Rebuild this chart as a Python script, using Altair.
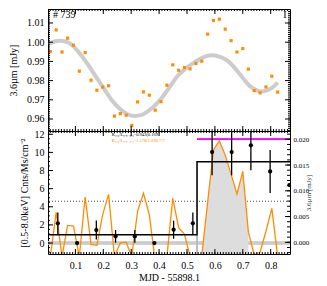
import altair as alt
import pandas as pd
import numpy as np

# ---------------- data ----------------
# common time grid (MJD - 55898.1)
t_grid = [0.010, 0.031, 0.052, 0.072, 0.093, 0.114, 0.135, 0.156, 0.177, 0.198,
          0.219, 0.240, 0.261, 0.282, 0.302, 0.323, 0.344, 0.365, 0.386, 0.407,
          0.428, 0.449, 0.470, 0.491, 0.511, 0.532, 0.553, 0.574, 0.595, 0.616,
          0.637, 0.658, 0.679, 0.700, 0.720, 0.741, 0.762, 0.783, 0.804, 0.825]

# IRAC 3.6um flux (mJy)
ir_flux = [0.9951, 1.0064, 0.9949, 1.0021, 0.9984, 0.9849, 0.9946, 0.9802, 0.9750, 0.9766,
           0.9773, 0.9615, 0.9628, 0.9620, 0.9566, 0.9689, 0.9741, 0.9724, 0.9646, 0.9690,
           0.9776, 0.9882, 0.9854, 0.9868, 0.9861, 0.9889, 0.9901, 1.0042, 1.0113, 1.0120,
           1.0068, 1.0008, 0.9949, 0.9967, 0.9860, 0.9748, 0.9736, 0.9767, 0.9823, 0.9740]

# smooth model curve (gray)
fit_t = [0.005, 0.025, 0.048, 0.075, 0.108, 0.138, 0.168, 0.198, 0.228, 0.258, 0.287,
         0.311, 0.335, 0.359, 0.383, 0.407, 0.437, 0.467, 0.497, 0.526, 0.556, 0.586,
         0.616, 0.646, 0.670, 0.694, 0.712, 0.729, 0.747, 0.765, 0.789, 0.810, 0.825]
fit_y = [0.9990, 1.0004, 1.0008, 0.9998, 0.9955, 0.9898, 0.9833, 0.9768, 0.9703, 0.9655, 0.9625,
         0.9616, 0.9620, 0.9640, 0.9668, 0.9705, 0.9765, 0.9825, 0.9865, 0.9894, 0.9920, 0.9932,
         0.9925, 0.9903, 0.9868, 0.9825, 0.9792, 0.9767, 0.9752, 0.9743, 0.9750, 0.9768, 0.9790]

# scaled IR light curve in the X-ray panel (orange)
ir_scaled = [-1.6, 3.4, -1.5, 1.95, 1.88, -1.5, 5.08, -0.15, -0.25, 3.17,
             5.37, -1.5, 0.03, 0.10, -1.5, 3.53, 5.49, 3.1, -2.0, -1.5,
             -1.5, 4.93, 1.69, 0.96, -1.5, -1.5, -1.4, 4.5, 10.3, 11.26,
             9.7, 7.6, 5.4, 7.9, 1.2, -1.3, -1.0, 1.3, 3.83, -1.5]
flare_first, flare_last = 26, 34

# X-ray binned rates with errors
xr_t = [0.037, 0.106, 0.175, 0.244, 0.313, 0.383, 0.452, 0.521, 0.590, 0.660, 0.729, 0.798, 0.867]
xr_rate = [2.17, 0.0, 1.43, 0.74, 0.74, 0.0, 1.47, 2.17, 10.04, 10.04, 10.78, 7.9, 6.4]
xr_err = [1.19, 0.0, 1.05, 0.7, 0.7, 0.0, 1.0, 1.2, 2.57, 2.57, 2.76, 2.37, 0.0]

# Bayesian-block style step
blk_t = [0.0018, 0.536, 0.8692]
blk_rate = [0.92, 8.97, 8.97]

level_dotted = 4.6
level_magenta = 11.45
flare_start = 0.536

# ---------------- styles ----------------
FONT = "Liberation Serif"
ORANGE = "#ff8c00"
W, H1, H2 = 242, 122, 123
X_DOM = [0.0018, 0.8692]
YB_DOM = [-1.21, 12.36]
xs = alt.Scale(domain=X_DOM, nice=False, zero=False)
ys_top = alt.Scale(domain=[0.95375, 1.01729], nice=False, zero=False)
ys_bot = alt.Scale(domain=YB_DOM, nice=False, zero=False)
ys_r = alt.Scale(domain=[-0.00227, 0.02161], nice=False, zero=False)


def xticks(vals, length, top_edge, h):
    y0, y1 = (0, length) if top_edge else (h - length, h)
    return alt.Chart(pd.DataFrame({"v": vals})).mark_rule(color="black", strokeWidth=1).encode(
        x=alt.X("v:Q", scale=xs, axis=None), y=alt.value(y0), y2=alt.value(y1))


def yticks(vals, scale, length, left_edge):
    x0, x1 = (0, length) if left_edge else (W - length, W)
    return alt.Chart(pd.DataFrame({"v": vals})).mark_rule(color="black", strokeWidth=1).encode(
        y=alt.Y("v:Q", scale=scale, axis=None), x=alt.value(x0), x2=alt.value(x1))


x_major = [0.1, 0.2, 0.3, 0.4, 0.5, 0.6, 0.7, 0.8]
x_minor = [round(v, 2) for v in np.arange(0.01, 0.87, 0.01)]
ytop_major = [0.96, 0.97, 0.98, 0.99, 1.00, 1.01]
ytop_minor = [round(v, 3) for v in np.arange(0.954, 1.0175, 0.001)]
ybot_major = [0, 2, 4, 6, 8, 10, 12]
ybot_minor = [round(v, 1) for v in np.arange(-1.0, 12.4, 0.5)]
yr_major = [0.0, 0.005, 0.010, 0.015, 0.020]
yr_minor = [round(v, 3) for v in np.arange(-0.002, 0.0216, 0.001)]

# ---------------- top panel ----------------
df_ir = pd.DataFrame({"t": t_grid, "f": ir_flux})
df_fit = pd.DataFrame({"t": fit_t, "f": fit_y})

top_axis = alt.Axis(values=ytop_major, format=".2f", ticks=False, domain=False, grid=False,
                    labelPadding=4, title="3.6µm [mJy]", titlePadding=8,
                    labelFontSize=10, titleFontSize=10, labelFont=FONT, titleFont=FONT,
                    titleFontWeight="normal", labelColor="black", titleColor="black")

fit_line = alt.Chart(df_fit).mark_line(color="#cccccc", strokeWidth=4, interpolate="monotone").encode(
    x=alt.X("t:Q", scale=xs, axis=None),
    y=alt.Y("f:Q", scale=ys_top, axis=top_axis),
)
ir_pts = alt.Chart(df_ir).mark_square(size=10, color=ORANGE, opacity=1).encode(
    x=alt.X("t:Q", scale=xs, axis=None),
    y=alt.Y("f:Q", scale=ys_top, axis=None),
)
top_txt = alt.Chart(pd.DataFrame({"t": [0.02, 0.845], "f": [1.0142, 1.0142],
                                  "s": ["# 739", "I"]})).mark_text(
    font=FONT, fontSize=10, baseline="middle", align="left", color="black"
).encode(
    x=alt.X("t:Q", scale=xs, axis=None),
    y=alt.Y("f:Q", scale=ys_top, axis=None),
    text="s:N",
)

top = alt.layer(
    fit_line, ir_pts, top_txt,
    xticks(x_major, 5, True, H1), xticks(x_minor, 2, True, H1),
    xticks(x_major, 5, False, H1), xticks(x_minor, 2, False, H1),
    yticks(ytop_major, ys_top, 5, True), yticks(ytop_minor, ys_top, 2, True),
    yticks(ytop_major, ys_top, 5, False), yticks(ytop_minor, ys_top, 2, False),
).resolve_axis(x="independent", y="independent").properties(width=W, height=H1)

# ---------------- bottom panel ----------------
df_or = pd.DataFrame({"t": t_grid, "r": ir_scaled})
df_fl = df_or.iloc[flare_first:flare_last + 1]
df_xr = pd.DataFrame({"t": xr_t, "r": xr_rate,
                      "lo": [r - e for r, e in zip(xr_rate, xr_err)],
                      "hi": [r + e for r, e in zip(xr_rate, xr_err)]})
df_blk = pd.DataFrame({"t": blk_t, "r": blk_rate})

bot_xaxis = alt.Axis(values=x_major, format=".1f", ticks=False, domain=False, grid=False,
                     labelPadding=6, title="MJD - 55898.1", titlePadding=2,
                     labelFontSize=10, titleFontSize=10, labelFont=FONT, titleFont=FONT,
                     titleFontWeight="normal", labelColor="black", titleColor="black")
bot_yaxis = alt.Axis(values=ybot_major, format="d", ticks=False, domain=False, grid=False,
                     labelPadding=4, title="[0.5-8.0keV] Cnts/Ms/cm⁻²", titlePadding=5,
                     labelFontSize=10, titleFontSize=10, labelFont=FONT, titleFont=FONT,
                     titleFontWeight="normal", labelColor="black", titleColor="black")

# invisible carrier of the bottom axes
carrier = alt.Chart(df_blk).mark_point(opacity=0).encode(
    x=alt.X("t:Q", scale=xs, axis=bot_xaxis),
    y=alt.Y("r:Q", scale=ys_bot, axis=bot_yaxis),
)
zero_full = alt.Chart(df_blk).mark_rule(color="#cccccc", strokeWidth=3).encode(
    y=alt.Y(datum=0, type="quantitative", scale=ys_bot, axis=None))
dot_rule = alt.Chart(df_blk).mark_rule(
    color="#777777", strokeWidth=0.8, strokeDash=[1, 2]).encode(
    y=alt.Y(datum=level_dotted, type="quantitative", scale=ys_bot, axis=None))
fill = alt.Chart(df_fl).mark_area(color="#dddddd", clip=True).encode(
    x=alt.X("t:Q", scale=xs, axis=None),
    y=alt.Y("r:Q", scale=ys_bot, axis=None),
    y2=alt.Y2Datum(YB_DOM[0]),
)
gray_v = alt.Chart(df_blk).mark_rule(color="#bbbbbb", strokeWidth=1.5).encode(
    x=alt.X(datum=flare_start, type="quantitative", scale=xs, axis=None),
    y=alt.Y(datum=YB_DOM[0], type="quantitative", scale=ys_bot, axis=None),
    y2=alt.Y2Datum(8.97),
)
or_line = alt.Chart(df_or).mark_line(color=ORANGE, strokeWidth=1.3, clip=True).encode(
    x=alt.X("t:Q", scale=xs, axis=None),
    y=alt.Y("r:Q", scale=ys_bot, axis=None),
)
blk_line = alt.Chart(df_blk).mark_line(color="black", strokeWidth=1.4, interpolate="step-after",
                                       clip=True).encode(
    x=alt.X("t:Q", scale=xs, axis=None),
    y=alt.Y("r:Q", scale=ys_bot, axis=None),
)
mag = alt.Chart(df_blk).mark_rule(color="#ff00ff", strokeWidth=1.5).encode(
    x=alt.X(datum=flare_start, type="quantitative", scale=xs, axis=None),
    x2=alt.X2Datum(X_DOM[1]),
    y=alt.Y(datum=level_magenta, type="quantitative", scale=ys_bot, axis=None),
)
err = alt.Chart(df_xr).mark_rule(color="black", strokeWidth=1.3, clip=True).encode(
    x=alt.X("t:Q", scale=xs, axis=None),
    y=alt.Y("lo:Q", scale=ys_bot, axis=None),
    y2="hi:Q",
)
pts = alt.Chart(df_xr).mark_circle(color="black", size=18, opacity=1, clip=True).encode(
    x=alt.X("t:Q", scale=xs, axis=None),
    y=alt.Y("r:Q", scale=ys_bot, axis=None),
)
ann = alt.Chart(pd.DataFrame({
    "t": [0.23, 0.23], "r": [11.95, 11.25],
    "s": ["K₃.₆/L₀.₅₋₈.₀=0.943(0.169", "K₃.₆/L₀.₅₋₈.₀=1.578(1.690 ???"],
    "c": ["k", "o"]})).mark_text(font=FONT, fontSize=4.5, align="left", baseline="middle").encode(
    x=alt.X("t:Q", scale=xs, axis=None),
    y=alt.Y("r:Q", scale=ys_bot, axis=None),
    text="s:N",
    color=alt.Color("c:N", scale=alt.Scale(domain=["k", "o"], range=["black", ORANGE]), legend=None),
)

inner = alt.layer(
    carrier, zero_full, dot_rule, fill, gray_v, or_line, blk_line, mag, err, pts, ann,
    xticks(x_major, 5, True, H2), xticks(x_minor, 2, True, H2),
    xticks(x_major, 5, False, H2), xticks(x_minor, 2, False, H2),
    yticks(ybot_major, ys_bot, 5, True), yticks(ybot_minor, ys_bot, 2, True),
).resolve_axis(x="independent", y="independent")

r_axis = alt.Axis(orient="right", values=yr_major, format=".3f", ticks=False, domain=False,
                  grid=False, labelPadding=3, labelFontSize=7, title="3.6µm [mJy]",
                  titleFontSize=7, titleAngle=270, titlePadding=3, labelFont=FONT,
                  titleFont=FONT, titleFontWeight="normal", labelColor="black",
                  titleColor="#333333")
r_pts = alt.Chart(pd.DataFrame({"v": [0.0, 0.02]})).mark_point(opacity=0).encode(
    y=alt.Y("v:Q", scale=ys_r, axis=r_axis))
right_group = alt.layer(
    r_pts, yticks(yr_major, ys_r, 5, False), yticks(yr_minor, ys_r, 3, False)
).resolve_axis(y="independent")

bottom = alt.layer(inner, right_group).resolve_scale(y="independent").properties(width=W, height=H2)

chart = alt.vconcat(top, bottom, spacing=0, bounds="flush", padding=0).configure_view(
    stroke="black", strokeWidth=1
)

chart.save("out.html", embed_options={"renderer": "svg", "actions": False})
